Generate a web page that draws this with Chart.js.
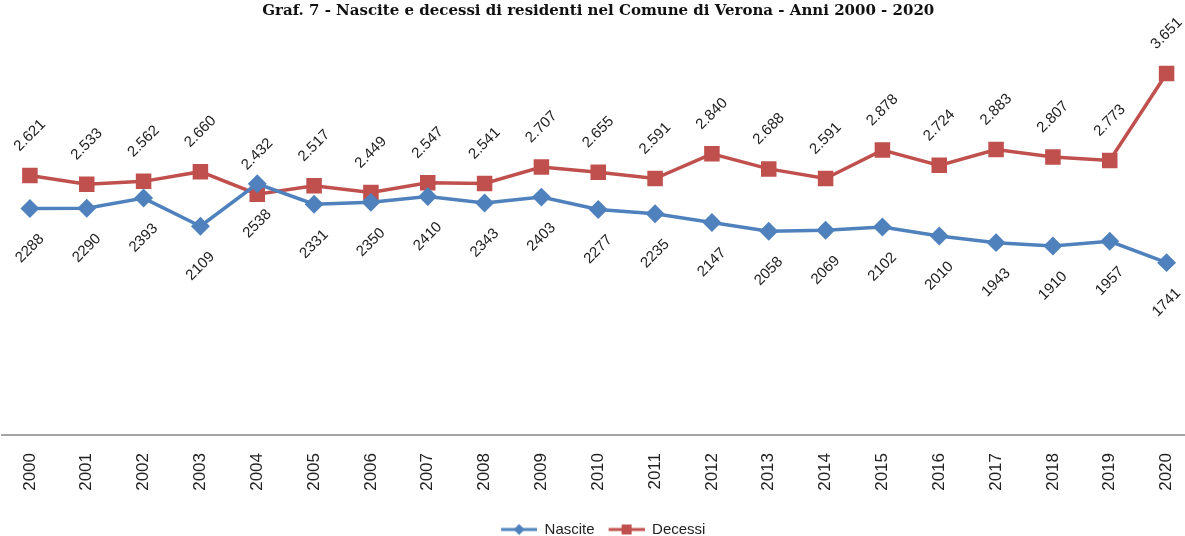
<!DOCTYPE html>
<html>
<head>
<meta charset="utf-8">
<script src="https://cdn.jsdelivr.net/npm/chart.js@4/dist/chart.umd.min.js"></script>
<style>
    html, body { margin: 0; padding: 0; background: #fff; overflow: hidden; }
    #wrap { width: 1195px; height: 536px; position: relative; }
</style>
</head>
<body>
<div id="wrap"><canvas id="veronaChart"></canvas></div>
<script>
const anni = ["2000", "2001", "2002", "2003", "2004", "2005", "2006", "2007", "2008", "2009", "2010",
    "2011", "2012", "2013", "2014", "2015", "2016", "2017", "2018", "2019", "2020"];
const nascite = [2288, 2290, 2393, 2109, 2538, 2331, 2350, 2410, 2343, 2403, 2277,
    2235, 2147, 2058, 2069, 2102, 2010, 1943, 1910, 1957, 1741];
const decessi = [2621, 2533, 2562, 2660, 2432, 2517, 2449, 2547, 2541, 2707, 2655,
    2591, 2840, 2688, 2591, 2878, 2724, 2883, 2807, 2773, 3651];

const BLUE = "#4F81BD";
const RED = "#C0504D";

// "2621" -> "2.621"
const puntini = (v) => Math.floor(v / 1000) + "." + String(v % 1000).padStart(3, "0");

// legend icons: short line with the marker in the middle (left margin = gap between items)
function legendIcon(color, shape) {
    const c = document.createElement("canvas");
    c.width = 46; c.height = 14;
    const ctx = c.getContext("2d");
    ctx.strokeStyle = color;
    ctx.lineWidth = 3;
    ctx.beginPath(); ctx.moveTo(10, 7); ctx.lineTo(46, 7); ctx.stroke();
    ctx.fillStyle = color;
    ctx.beginPath();
    if (shape === "diamond") {
        ctx.moveTo(28, 1.5); ctx.lineTo(33.5, 7); ctx.lineTo(28, 12.5); ctx.lineTo(22.5, 7);
    } else {
        ctx.rect(23, 2, 10, 10);
    }
    ctx.closePath(); ctx.fill();
    return c;
}
const icons = [legendIcon(BLUE, "diamond"), legendIcon(RED, "square")];

// rotated value labels, Decessi above and Nascite below the points
const etichette = {
    id: "etichette",
    afterDatasetsDraw(chart) {
        const ctx = chart.ctx;
        ctx.save();
        ctx.font = "15px 'Liberation Sans', Arial, sans-serif";
        ctx.fillStyle = "#1e1e1e";
        ctx.textAlign = "center";
        ctx.textBaseline = "middle";
        chart.data.datasets.forEach((ds, i) => {
            const meta = chart.getDatasetMeta(i);
            meta.data.forEach((pt, j) => {
                const v = ds.data[j];
                const txt = i === 1 ? puntini(v) : String(v);
                const dy = i === 1 ? -40 : 40;
                ctx.save();
                ctx.translate(pt.x, pt.y + dy);
                ctx.rotate(-Math.PI / 4);
                ctx.fillText(txt, 0, 0);
                ctx.restore();
            });
        });
        ctx.restore();
    }
};

new Chart(document.getElementById("veronaChart"), {
    type: "line",
    data: {
        labels: anni,
        datasets: [{
            label: "Nascite",
            data: nascite,
            borderColor: BLUE,
            backgroundColor: BLUE,
            borderWidth: 3.5,
            pointStyle: "rectRot",
            pointRadius: 7,
            pointHoverRadius: 7,
            tension: 0
        }, {
            label: "Decessi",
            data: decessi,
            borderColor: RED,
            backgroundColor: RED,
            borderWidth: 3.5,
            pointStyle: "rect",
            pointRadius: 8.5,
            pointHoverRadius: 8.5,
            tension: 0
        }]
    },
    options: {
        responsive: true,
        maintainAspectRatio: false,
        animation: false,
        layout: { autoPadding: false, padding: { left: 1.5, right: 0, top: 0, bottom: -11 } },
        scales: {
            x: {
                offset: true,
                grid: { display: false, drawTicks: false },
                border: { display: true, color: "#a6a6a6", width: 2 },
                ticks: {
                    color: "#222",
                    font: { family: "'Liberation Sans', Arial, sans-serif", size: 17 },
                    minRotation: 90,
                    maxRotation: 90,
                    padding: 18
                },
                afterFit(scale) {
                    scale.paddingLeft = 0;
                    scale.paddingRight = 0;
                    scale.height = 83;
                }
            },
            y: {
                display: false,
                min: 0,
                max: 4000
            }
        },
        plugins: {
            title: {
                display: true,
                text: "Graf. 7 - Nascite e decessi di residenti nel Comune di Verona - Anni 2000 - 2020",
                color: "#111",
                font: { family: "'DejaVu Serif', serif", size: 15, weight: "bold" },
                padding: { top: 2, bottom: 19 }
            },
            legend: {
                position: "bottom",
                labels: {
                    color: "#222",
                    font: { family: "'Liberation Sans', Arial, sans-serif", size: 15 },
                    usePointStyle: true,
                    pointStyleWidth: 46,
                    boxHeight: 14,
                    padding: 4,
                    generateLabels(chart) {
                        const items = Chart.defaults.plugins.legend.labels.generateLabels(chart);
                        items.forEach((it, i) => { it.pointStyle = icons[i]; it.rotation = 0; });
                        return items;
                    }
                }
            },
            tooltip: { enabled: false }
        }
    },
    plugins: [etichette]
});
</script>
</body>
</html>
